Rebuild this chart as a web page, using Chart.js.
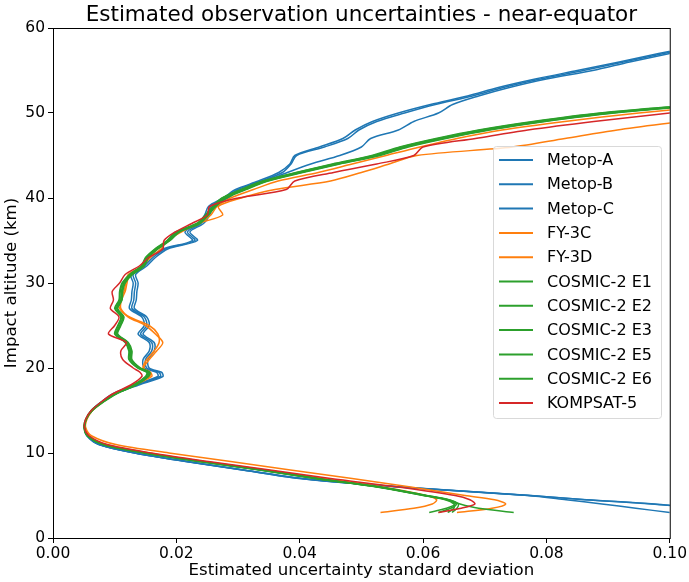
<!DOCTYPE html>
<html>
<head>
  <meta charset="UTF-8">
  <title>Estimated observation uncertainties - near-equator</title>
  <script src="https://cdn.jsdelivr.net/npm/chart.js"></script>
  <style>
    body { margin: 0; background: #fff; }
    canvas { display: block; }
  </style>
</head>
<body>
  <canvas id="grafico" width="689" height="582"></canvas>

  <script>
    // impact altitude grid (km), shared by every profile
    const altitude = [3, 3.5, 4, 4.5, 5, 6, 7, 8, 9, 10, 11, 12, 13, 14, 15, 16, 17, 18, 19, 19.5,
      20, 21, 22, 23, 24, 25, 26, 27, 28, 29, 30, 31, 32, 33, 34, 35, 36, 37, 38, 39,
      40, 41, 42, 43, 44, 45, 46, 47, 48, 49, 50, 51, 52, 53, 54, 55, 56, 57, 58];

    // uncertainty std-dev per mission, one value per altitude above (profiles stop once off scale)
    const metopA = [0.1120, 0.1050, 0.0975, 0.0865, 0.0775, 0.0565, 0.0405, 0.0310, 0.0218, 0.0134,
      0.0075, 0.0056, 0.0051, 0.0054, 0.0063, 0.0079, 0.0100, 0.0135, 0.0174, 0.0172,
      0.0152, 0.0150, 0.0160, 0.0160, 0.0142, 0.0152, 0.0148, 0.0128, 0.0131, 0.0132,
      0.0134, 0.0130, 0.0148, 0.0162, 0.0182, 0.0230, 0.0218, 0.0240, 0.0250, 0.0256,
      0.0280, 0.0300, 0.0338, 0.0372, 0.0386, 0.0395, 0.0440, 0.0478, 0.0496, 0.0525,
      0.0570, 0.0620, 0.0680, 0.0730, 0.0790, 0.0860, 0.0925, 0.0990, 0.1060];
    const metopB = [0.1110, 0.1045, 0.0970, 0.0862, 0.0772, 0.0562, 0.0402, 0.0308, 0.0216, 0.0133,
      0.0075, 0.0056, 0.0051, 0.0054, 0.0063, 0.0080, 0.0102, 0.0139, 0.0178, 0.0176,
      0.0156, 0.0154, 0.0164, 0.0164, 0.0146, 0.0156, 0.0152, 0.0132, 0.0135, 0.0136,
      0.0138, 0.0134, 0.0152, 0.0166, 0.0186, 0.0234, 0.0222, 0.0244, 0.0254, 0.0260,
      0.0284, 0.0305, 0.0345, 0.0380, 0.0418, 0.0465, 0.0500, 0.0515, 0.0560, 0.0585,
      0.0625, 0.0648, 0.0690, 0.0740, 0.0800, 0.0875, 0.0935, 0.1000, 0.1065];
    const metopC = [0.1000, 0.0945, 0.0890, 0.0832, 0.0770, 0.0560, 0.0400, 0.0307, 0.0215, 0.0132,
      0.0074, 0.0055, 0.0051, 0.0054, 0.0062, 0.0078, 0.0098, 0.0131, 0.0170, 0.0168,
      0.0148, 0.0146, 0.0156, 0.0156, 0.0138, 0.0148, 0.0144, 0.0124, 0.0127, 0.0128,
      0.0130, 0.0126, 0.0144, 0.0158, 0.0178, 0.0226, 0.0214, 0.0236, 0.0246, 0.0252,
      0.0276, 0.0296, 0.0333, 0.0366, 0.0384, 0.0392, 0.0432, 0.0470, 0.0490, 0.0518,
      0.0560, 0.0612, 0.0672, 0.0722, 0.0782, 0.0850, 0.0918, 0.0982, 0.1050];
    const fy3c = [0.0655, 0.0712, 0.0734, 0.0716, 0.0668, 0.0580, 0.0485, 0.0385, 0.0288, 0.0188,
      0.0102, 0.0063, 0.0053, 0.0055, 0.0064, 0.0080, 0.0100, 0.0132, 0.0160, 0.0158,
      0.0147, 0.0156, 0.0168, 0.0178, 0.0166, 0.0150, 0.0122, 0.0108, 0.0108, 0.0115,
      0.0118, 0.0122, 0.0145, 0.0158, 0.0175, 0.0185, 0.0208, 0.0235, 0.0275, 0.0268,
      0.0305, 0.0360, 0.0450, 0.0500, 0.0545, 0.0590, 0.0745, 0.0830, 0.0915, 0.1020];
    const fy3d = [0.0531, 0.0585, 0.0615, 0.0622, 0.0605, 0.0535, 0.0440, 0.0345, 0.0246, 0.0156,
      0.0086, 0.0058, 0.0052, 0.0055, 0.0064, 0.0081, 0.0101, 0.0131, 0.0157, 0.0156,
      0.0146, 0.0152, 0.0164, 0.0172, 0.0170, 0.0156, 0.0124, 0.0110, 0.0111, 0.0117,
      0.0120, 0.0124, 0.0146, 0.0156, 0.0170, 0.0186, 0.0205, 0.0238, 0.0256, 0.0266,
      0.0288, 0.0325, 0.0365, 0.0430, 0.0485, 0.0540, 0.0595, 0.0655, 0.0728, 0.0830,
      0.0950, 0.1090];
    const cosmicE1 = [0.0610, 0.0638, 0.0652, 0.0638, 0.0603, 0.0528, 0.0428, 0.0338, 0.0240, 0.0150,
      0.0082, 0.0057, 0.0051, 0.0054, 0.0063, 0.0080, 0.0102, 0.0133, 0.0153, 0.0155,
      0.0140, 0.0126, 0.0126, 0.0120, 0.0103, 0.0108, 0.0113, 0.0103, 0.0110, 0.0111,
      0.0115, 0.0127, 0.0146, 0.0153, 0.0168, 0.0188, 0.0202, 0.0236, 0.0250, 0.0262,
      0.0278, 0.0310, 0.0345, 0.0400, 0.0460, 0.0525, 0.0570, 0.0630, 0.0700, 0.0790,
      0.0900, 0.1060];
    const cosmicE2 = [0.0647, 0.0655, 0.0657, 0.0642, 0.0606, 0.0531, 0.0431, 0.0341, 0.0243, 0.0152,
      0.0083, 0.0057, 0.0051, 0.0054, 0.0063, 0.0081, 0.0103, 0.0135, 0.0155, 0.0157,
      0.0142, 0.0128, 0.0128, 0.0122, 0.0105, 0.0110, 0.0115, 0.0105, 0.0112, 0.0113,
      0.0117, 0.0129, 0.0148, 0.0155, 0.0170, 0.0190, 0.0205, 0.0238, 0.0252, 0.0264,
      0.0281, 0.0313, 0.0349, 0.0405, 0.0465, 0.0530, 0.0576, 0.0637, 0.0708, 0.0798,
      0.0910, 0.1070];
    const cosmicE3 = [0.0625, 0.0645, 0.0654, 0.0640, 0.0604, 0.0529, 0.0429, 0.0339, 0.0241, 0.0151,
      0.0082, 0.0057, 0.0051, 0.0054, 0.0063, 0.0080, 0.0101, 0.0131, 0.0151, 0.0153,
      0.0138, 0.0124, 0.0124, 0.0118, 0.0101, 0.0106, 0.0111, 0.0101, 0.0108, 0.0109,
      0.0113, 0.0125, 0.0144, 0.0151, 0.0166, 0.0186, 0.0200, 0.0234, 0.0248, 0.0260,
      0.0275, 0.0307, 0.0342, 0.0396, 0.0456, 0.0520, 0.0565, 0.0625, 0.0694, 0.0783,
      0.0892, 0.1050];
    const cosmicE5 = [0.0747, 0.0690, 0.0660, 0.0641, 0.0602, 0.0527, 0.0426, 0.0336, 0.0238, 0.0149,
      0.0081, 0.0056, 0.0051, 0.0054, 0.0064, 0.0082, 0.0104, 0.0134, 0.0154, 0.0156,
      0.0141, 0.0127, 0.0127, 0.0121, 0.0104, 0.0109, 0.0114, 0.0104, 0.0111, 0.0112,
      0.0116, 0.0128, 0.0147, 0.0154, 0.0169, 0.0189, 0.0203, 0.0237, 0.0251, 0.0263,
      0.0279, 0.0311, 0.0347, 0.0402, 0.0462, 0.0527, 0.0573, 0.0633, 0.0704, 0.0794,
      0.0905, 0.1065];
    const cosmicE6 = [0.0640, 0.0650, 0.0650, 0.0636, 0.0600, 0.0525, 0.0425, 0.0335, 0.0237, 0.0148,
      0.0081, 0.0056, 0.0050, 0.0053, 0.0062, 0.0079, 0.0100, 0.0130, 0.0150, 0.0152,
      0.0137, 0.0123, 0.0123, 0.0117, 0.0100, 0.0105, 0.0110, 0.0100, 0.0107, 0.0108,
      0.0112, 0.0124, 0.0143, 0.0150, 0.0165, 0.0185, 0.0199, 0.0233, 0.0247, 0.0259,
      0.0274, 0.0305, 0.0340, 0.0394, 0.0453, 0.0517, 0.0562, 0.0621, 0.0690, 0.0778,
      0.0886, 0.1045];
    const kompsat5 = [0.0625, 0.0662, 0.0684, 0.0676, 0.0652, 0.0560, 0.0450, 0.0352, 0.0252, 0.0160,
      0.0088, 0.0059, 0.0051, 0.0053, 0.0062, 0.0078, 0.0098, 0.0126, 0.0144, 0.0141,
      0.0130, 0.0113, 0.0110, 0.0119, 0.0090, 0.0100, 0.0107, 0.0093, 0.0098, 0.0096,
      0.0108, 0.0117, 0.0140, 0.0155, 0.0178, 0.0180, 0.0198, 0.0225, 0.0250, 0.0254,
      0.0300, 0.0378, 0.0392, 0.0455, 0.0525, 0.0585, 0.0600, 0.0685, 0.0770, 0.0877,
      0.1000, 0.1130];

    const missions = ['Metop-A', 'Metop-B', 'Metop-C', 'FY-3C', 'FY-3D',
      'COSMIC-2 E1', 'COSMIC-2 E2', 'COSMIC-2 E3', 'COSMIC-2 E5', 'COSMIC-2 E6', 'KOMPSAT-5'];
    const profiles = [metopA, metopB, metopC, fy3c, fy3d,
      cosmicE1, cosmicE2, cosmicE3, cosmicE5, cosmicE6, kompsat5];
    const cores = ['#1f77b4', '#1f77b4', '#1f77b4', '#ff7f0e', '#ff7f0e',
      '#2ca02c', '#2ca02c', '#2ca02c', '#2ca02c', '#2ca02c', '#d62728'];

    const xTicks = [0, 0.02, 0.04, 0.06, 0.08, 0.10];
    const yTicks = [0, 10, 20, 30, 40, 50, 60];

    const FONTE = 'DejaVu Sans';
    Chart.defaults.font.family = FONTE;
    Chart.defaults.color = '#000';

    const datasets = missions.map((nome, i) => ({
      label: nome,
      data: profiles[i].map((v, k) => ({ x: v, y: altitude[k] })),
      borderColor: cores[i],
      borderWidth: 1.5,
      showLine: true,
      pointRadius: 0,
      tension: 0.3,
      fill: false,
      order: missions.length - i   // later missions drawn on top
    }));

    // frame, title and legend box drawn straight on the canvas
    const molduraPlugin = {
      id: 'moldura',
      afterDatasetsDraw(chart) {
        const { ctx, chartArea: a } = chart;
        ctx.save();
        ctx.strokeStyle = '#000';
        ctx.lineWidth = 1;
        ctx.strokeRect(a.left + 0.5, a.top + 0.5, a.right - a.left, a.bottom - a.top);

        ctx.fillStyle = '#000';
        ctx.font = '21.5px "' + FONTE + '"';
        ctx.textAlign = 'center';
        ctx.textBaseline = 'middle';
        ctx.fillText('Estimated observation uncertainties - near-equator', (a.left + a.right) / 2, 15);

        // legend
        const bx = 493, by = 146, bw = 168, bh = 272, passo = 24.3;
        ctx.globalAlpha = 0.8;
        ctx.fillStyle = '#fff';
        ctx.beginPath();
        ctx.roundRect(bx + 0.5, by + 0.5, bw, bh, 3);
        ctx.fill();
        ctx.globalAlpha = 1;
        ctx.strokeStyle = '#d9d9d9';
        ctx.stroke();
        ctx.font = '16px "' + FONTE + '"';
        ctx.textAlign = 'left';
        chart.data.datasets.forEach((ds, i) => {
          const y = by + 14 + i * passo;
          ctx.strokeStyle = ds.borderColor;
          ctx.lineWidth = 2;
          ctx.beginPath();
          ctx.moveTo(bx + 6, y);
          ctx.lineTo(bx + 40, y);
          ctx.stroke();
          ctx.fillStyle = '#000';
          ctx.fillText(ds.label, bx + 54, y + 1);
        });
        ctx.restore();
      }
    };

    new Chart(document.getElementById('grafico'), {
      type: 'scatter',
      data: { datasets },
      options: {
        animation: false,
        responsive: false,
        layout: { padding: { top: 28, right: 19, left: 0, bottom: 0 } },
        plugins: { legend: { display: false }, tooltip: { enabled: false } },
        scales: {
          x: {
            type: 'linear',
            min: 0,
            max: 0.1,
            afterFit: s => { s.height = 44; },
            afterBuildTicks: s => { s.ticks = xTicks.map(v => ({ value: v })); },
            ticks: {
              font: { size: 15.5 },
              color: '#000',
              padding: 2,
              callback: v => v.toFixed(2)
            },
            grid: { drawOnChartArea: false, drawTicks: true, tickLength: 5, color: '#000' },
            border: { display: true, color: '#000', width: 1 },
            title: {
              display: true,
              text: 'Estimated uncertainty standard deviation',
              font: { size: 16.6 },
              color: '#000',
              padding: { top: 0, bottom: 1 }
            }
          },
          y: {
            type: 'linear',
            min: 0,
            max: 60,
            afterFit: s => { s.width = 53; },
            afterBuildTicks: s => { s.ticks = yTicks.map(v => ({ value: v })); },
            ticks: { font: { size: 15.5 }, color: '#000', padding: 3 },
            grid: { drawOnChartArea: false, drawTicks: true, tickLength: 5, color: '#000' },
            border: { display: true, color: '#000', width: 1 },
            title: {
              display: true,
              text: 'Impact altitude (km)',
              font: { size: 16.6 },
              color: '#000',
              padding: { top: 2, bottom: 0 }
            }
          }
        }
      },
      plugins: [molduraPlugin]
    });
  </script>
</body>
</html>
